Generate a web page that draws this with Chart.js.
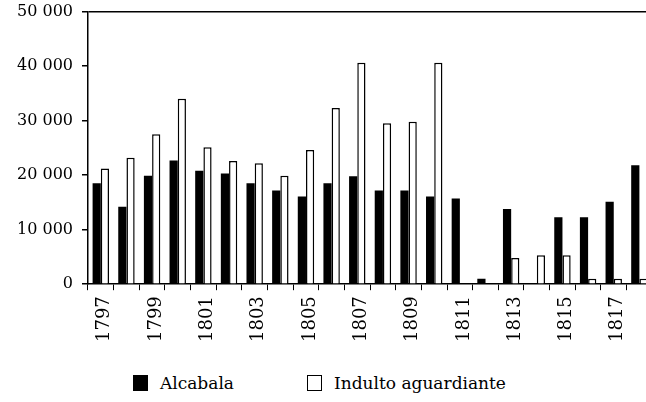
<!DOCTYPE html>
<html lang="es">
<head>
<meta charset="UTF-8">
<title>Alcabala e indulto aguardiante</title>
<script src="https://cdn.jsdelivr.net/npm/chart.js"></script>
<style>
    html, body { margin: 0; padding: 0; background: #fff; overflow: hidden; }
    body { width: 646px; height: 402px; position: relative; }
    .wrap { position: absolute; left: 0; top: -7px; width: 667px; height: 355px; }
    .legend { position: absolute; top: 373px; left: 0; width: 646px; font-family: "DejaVu Serif", serif; font-size: 17px; color: #000; }
    .legend span { position: absolute; top: 0; white-space: nowrap; }
    .box { display: inline-block; width: 13px; height: 14px; border: 1px solid #000; vertical-align: -2px; margin-right: 12px; }
</style>
</head>
<body>
<div class="wrap"><canvas id="grafico"></canvas></div>
<div class="legend">
    <span style="left:133px"><i class="box" style="background:#000"></i>Alcabala</span>
    <span style="left:307px"><i class="box" style="background:#fff"></i>Indulto aguardiante</span>
</div>

<script>
    const anios = ['1797', '1798', '1799', '1800', '1801', '1802', '1803', '1804', '1805', '1806', '1807',
        '1808', '1809', '1810', '1811', '1812', '1813', '1814', '1815', '1816', '1817', '1818'];
    const alcabala = [18500, 14200, 19900, 22700, 20800, 20300, 18500, 17200, 16100, 18500, 19800,
        17200, 17200, 16100, 15700, 1000, 13800, 0, 12300, 12300, 15100, 21800];
    const indulto = [21200, 23200, 27500, 34000, 25100, 22600, 22200, 19900, 24600, 32300, 40600,
        29500, 29800, 40600, 0, 0, 4800, 5300, 5300, 1000, 1000, 1000];
    const yTicks = [0, 10000, 20000, 30000, 40000, 50000];

    const serif = '"DejaVu Serif", serif';

    new Chart(document.getElementById('grafico'), {
        type: 'bar',
        data: {
            labels: anios,
            datasets: [{
                label: 'Alcabala',
                data: alcabala,
                backgroundColor: '#000',
                borderColor: '#000',
                borderWidth: 0,
                categoryPercentage: 0.64,
                barPercentage: 1.0
            }, {
                label: 'Indulto aguardiante',
                data: indulto,
                backgroundColor: '#fff',
                borderColor: '#000',
                borderWidth: 1.5,
                categoryPercentage: 0.64,
                barPercentage: 1.0
            }]
        },
        options: {
            responsive: true,
            maintainAspectRatio: false,
            animation: false,
            layout: { padding: { top: 2, right: 0, left: 8, bottom: 0 } },
            plugins: {
                legend: { display: false },
                tooltip: { enabled: false }
            },
            scales: {
                x: {
                    grid: { drawOnChartArea: false, tickLength: 6, tickColor: '#000', offset: true },
                    border: { color: '#000', width: 1.5 },
                    ticks: {
                        autoSkip: false,
                        maxRotation: 90,
                        minRotation: 90,
                        padding: 6,
                        labelOffset: 4,
                        color: '#000',
                        font: { family: serif, size: 18 },
                        callback: function (val, i) { return i % 2 === 0 ? anios[i] : ''; }
                    }
                },
                y: {
                    min: 0,
                    max: 50000,
                    afterBuildTicks: axis => { axis.ticks = yTicks.map(v => ({ value: v })); },
                    grid: {
                        tickLength: 6,
                        tickColor: '#000',
                        color: ctx => ctx.tick && ctx.tick.value === 50000 ? '#000' : 'rgba(0,0,0,0)',
                        lineWidth: 1.5
                    },
                    border: { color: '#000', width: 1.5 },
                    ticks: {
                        padding: 9,
                        color: '#000',
                        font: { family: serif, size: 16 },
                        callback: v => String(v).replace(/\B(?=(\d{3})+(?!\d))/g, ' ')
                    }
                }
            }
        }
    });
</script>
</body>
</html>
